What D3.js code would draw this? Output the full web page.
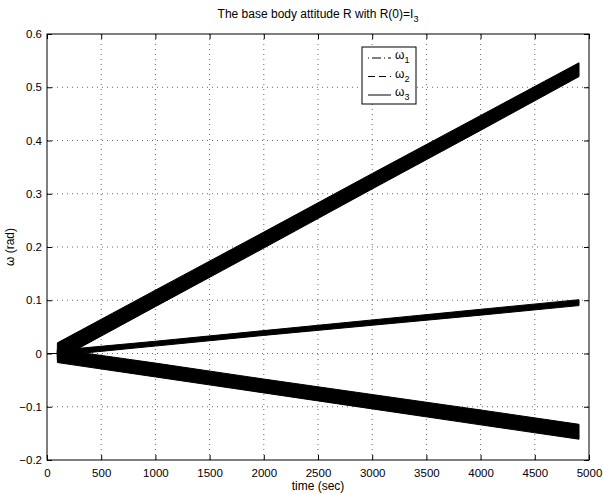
<!DOCTYPE html>
<html>
<head>
<meta charset="utf-8">
<script src="https://cdn.jsdelivr.net/npm/d3@7"></script>
<style>
  body { margin: 0; background: #fff; }
  text { font-family: "Liberation Sans", Arial, sans-serif; fill: #000; }
</style>
</head>
<body>
<div id="chart"></div>
<script>
var timeSec = [0, 95, 96, 1000, 2000, 3000, 4000, 4908];

// each signal oscillates fast, so it shows as a solid band: lower / upper edge
var omega1Low  = [0, 0, -0.012, 0.088, 0.198, 0.309, 0.419, 0.520];
var omega1High = [0, 0,  0.020, 0.119, 0.228, 0.338, 0.447, 0.546];
var omega2Low  = [0, 0, -0.017, -0.044, -0.074, -0.104, -0.134, -0.161];
var omega2High = [0, 0,  0.008, -0.018, -0.048, -0.077, -0.106, -0.133];
var omega3Low  = [0, 0, -0.004, 0.014, 0.034, 0.053, 0.072, 0.090];
var omega3High = [0, 0,  0.006, 0.023, 0.043, 0.063, 0.083, 0.101];

var xTicks = [0, 500, 1000, 1500, 2000, 2500, 3000, 3500, 4000, 4500, 5000];
var yTicks = [-0.2, -0.1, 0, 0.1, 0.2, 0.3, 0.4, 0.5, 0.6];
var legendNames = ["1", "2", "3"];
var legendDash = ["1,3,9,3", "7,4", null];

var width = 603, height = 495;
var padL = 47, padR = 589, padT = 34, padB = 460;

var svg = d3.select("#chart").append("svg")
    .attr("width", width)
    .attr("height", height);

var xScale = d3.scaleLinear().domain([0, 5000]).range([padL, padR]);
var yScale = d3.scaleLinear().domain([-0.2, 0.6]).range([padB, padT]);

// dotted grid
svg.append("g").selectAll("line")
    .data(xTicks.slice(1, -1)).enter().append("line")
    .attr("x1", function(d){ return xScale(d); })
    .attr("x2", function(d){ return xScale(d); })
    .attr("y1", padT).attr("y2", padB)
    .attr("stroke", "#666").attr("stroke-width", 1)
    .attr("stroke-dasharray", "1,4");
svg.append("g").selectAll("line")
    .data(yTicks.slice(1, -1)).enter().append("line")
    .attr("y1", function(d){ return yScale(d); })
    .attr("y2", function(d){ return yScale(d); })
    .attr("x1", padL).attr("x2", padR)
    .attr("stroke", "#666").attr("stroke-width", 1)
    .attr("stroke-dasharray", "1,4");

// axes with inward ticks
var fmtY = function(d){ return d === 0 ? "0" : d3.format(".1f")(d).replace("-", "\u2212"); };

var xAxis = d3.axisBottom(xScale).tickValues(xTicks).tickSizeInner(-5).tickSizeOuter(0).tickPadding(9).tickFormat(d3.format("d"));
var yAxis = d3.axisLeft(yScale).tickValues(yTicks).tickSizeInner(-5).tickSizeOuter(0).tickPadding(5).tickFormat(fmtY);
var xTop = d3.axisTop(xScale).tickValues(xTicks).tickSizeInner(-5).tickSizeOuter(0).tickFormat("");
var yRight = d3.axisRight(yScale).tickValues(yTicks).tickSizeInner(-5).tickSizeOuter(0).tickFormat("");

[[xAxis, "translate(0," + padB + ")"], [yAxis, "translate(" + padL + ",0)"],
 [xTop, "translate(0," + padT + ")"], [yRight, "translate(" + padR + ",0)"]].forEach(function(a){
    var g = svg.append("g").attr("transform", a[1]).call(a[0]);
    g.select(".domain").remove();
    g.selectAll("text").style("font-size", "11.5px").style("font-family", "Liberation Sans, Arial, sans-serif");
    g.selectAll("line").attr("stroke", "#000");
});

// signal bands
var bands = [[omega1Low, omega1High], [omega2Low, omega2High], [omega3Low, omega3High]];
var area = d3.area()
    .x(function(d){ return xScale(d.t); })
    .y0(function(d){ return yScale(d.lo); })
    .y1(function(d){ return yScale(d.hi); });

bands.forEach(function(b){
    var pts = timeSec.map(function(t, i){ return {t: t, lo: b[0][i], hi: b[1][i]}; });
    svg.append("path")
        .datum(pts)
        .attr("d", area)
        .attr("fill", "#000")
        .attr("stroke", "#000")
        .attr("stroke-width", 1);
});

// frame
svg.append("rect")
    .attr("x", padL).attr("y", padT)
    .attr("width", padR - padL).attr("height", padB - padT)
    .attr("fill", "none").attr("stroke", "#000").attr("stroke-width", 1);

// title and axis labels
var title = svg.append("text")
    .attr("x", (padL + padR) / 2).attr("y", 18)
    .attr("text-anchor", "middle")
    .style("font-size", "12px");
title.append("tspan").text("The base body attitude R with R(0)=I");
title.append("tspan").attr("dy", 4).style("font-size", "9px").text("3");

svg.append("text")
    .attr("x", (padL + padR) / 2).attr("y", 490)
    .attr("text-anchor", "middle")
    .style("font-size", "12px")
    .text("time (sec)");

svg.append("text")
    .attr("transform", "translate(14," + ((padT + padB) / 2) + ") rotate(-90)")
    .attr("text-anchor", "middle")
    .style("font-size", "12px")
    .text("\u03c9 (rad)");

// legend
var lg = svg.append("g").attr("transform", "translate(362,47)");
lg.append("rect")
    .attr("width", 54).attr("height", 57)
    .attr("fill", "#fff").attr("stroke", "#000").attr("stroke-width", 1);

legendNames.forEach(function(n, i){
    var yy = 11 + i * 18.5;
    lg.append("line")
        .attr("x1", 6).attr("x2", 29)
        .attr("y1", yy).attr("y2", yy)
        .attr("stroke", "#000").attr("stroke-width", 1)
        .attr("stroke-dasharray", legendDash[i]);
    var t = lg.append("text").attr("x", 33).attr("y", yy + 1).style("font-size", "12px");
    t.append("tspan").text("\u03c9");
    t.append("tspan").attr("dy", 4).style("font-size", "9px").text(n);
});
</script>
</body>
</html>
